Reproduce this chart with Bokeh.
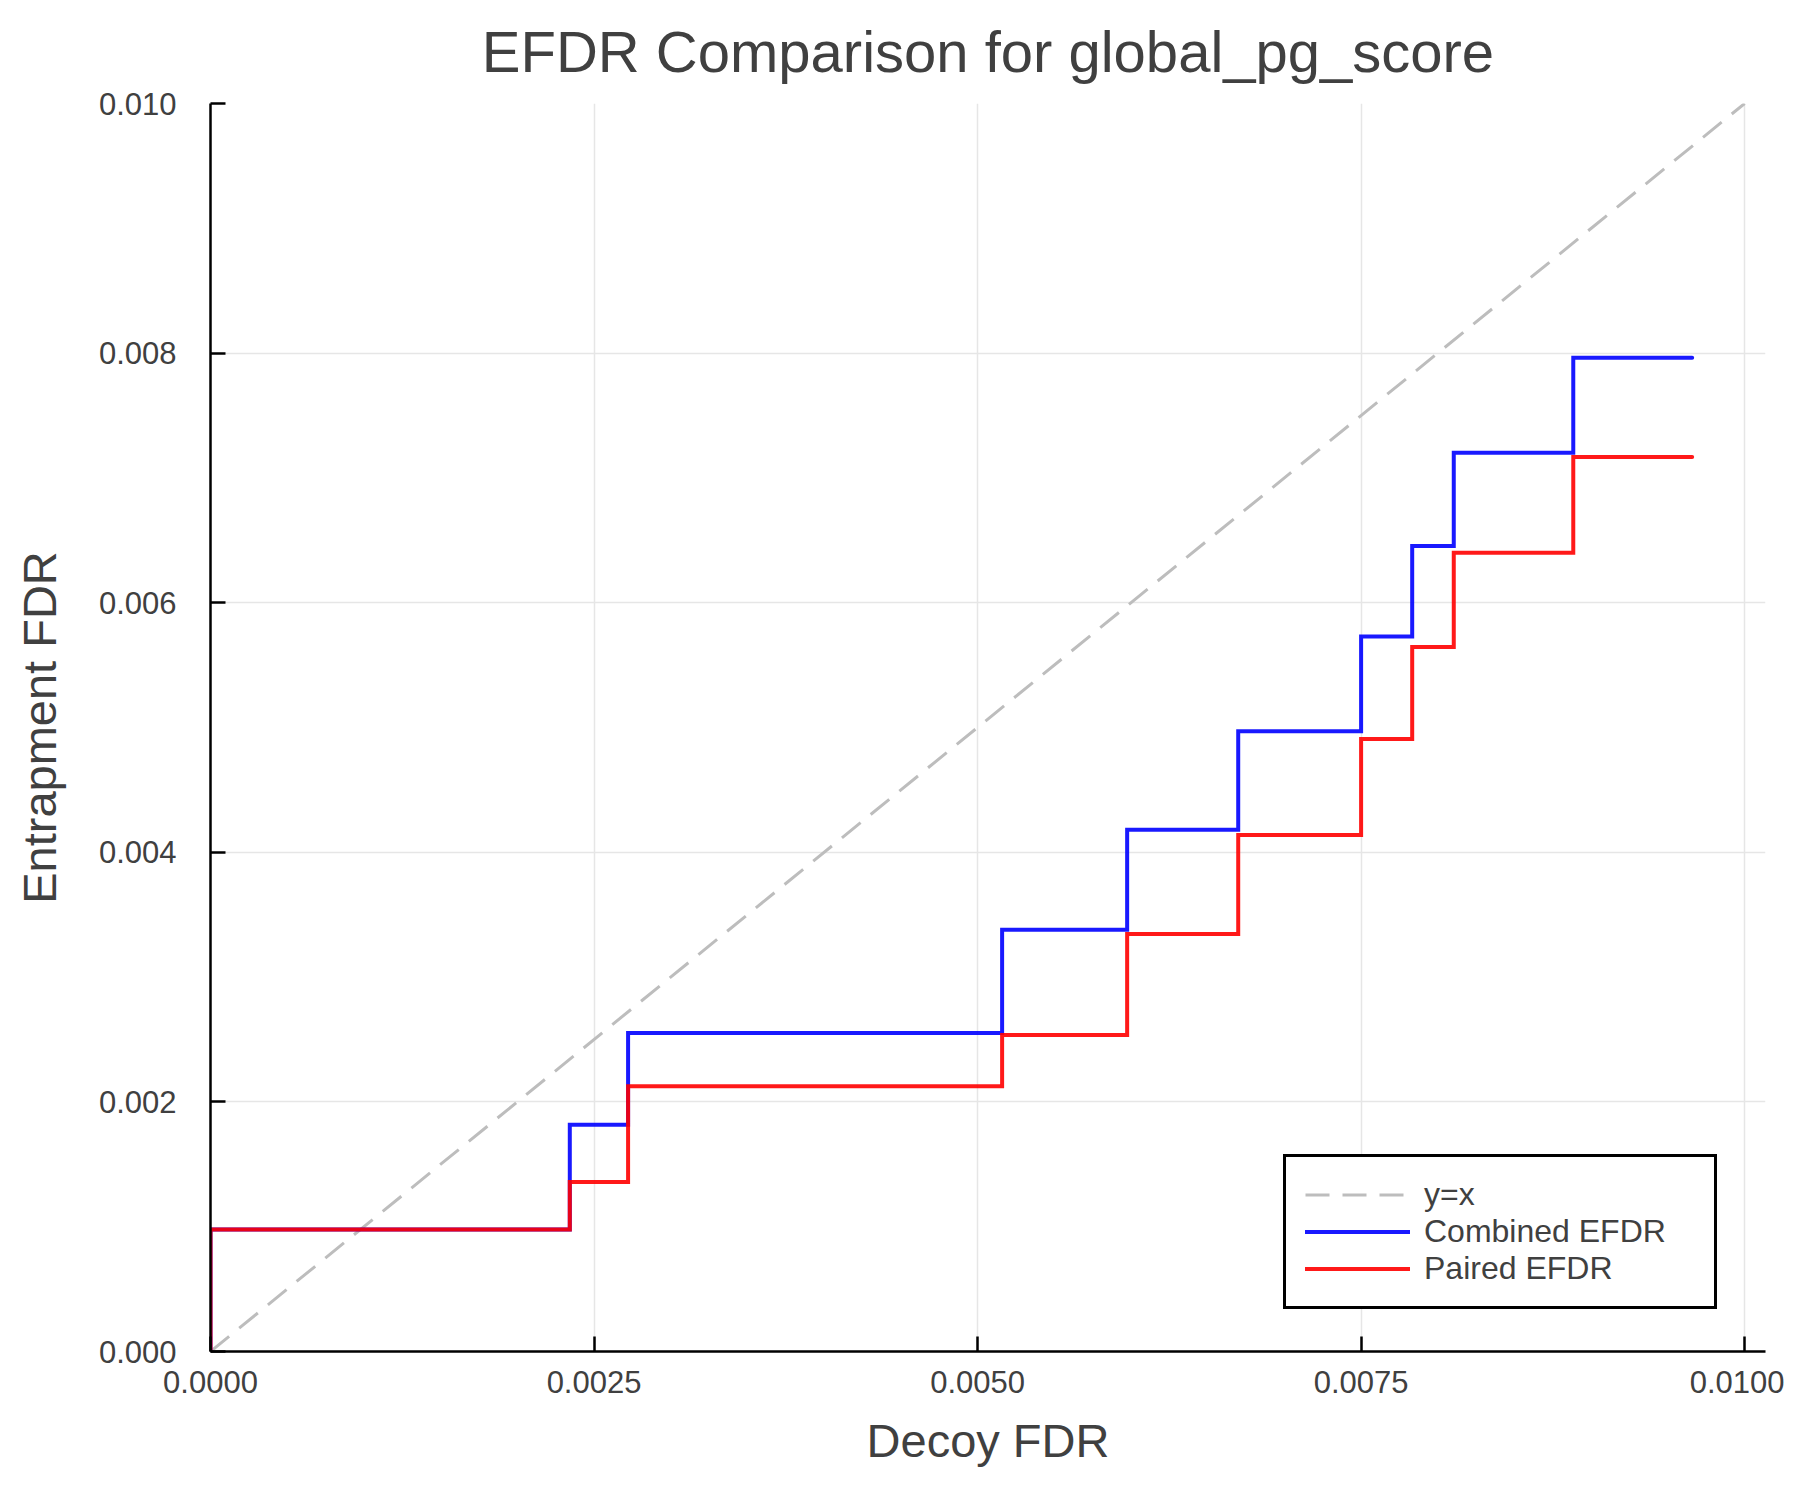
from bokeh.plotting import figure
from bokeh.models import FixedTicker, NumeralTickFormatter, Range1d, Legend, LegendItem
from bokeh.embed import file_html
from bokeh.resources import INLINE

# ---- data ----
decoy_fdr = [0.0, 0.002342, 0.002722, 0.00516, 0.005975, 0.006699, 0.0075, 0.007833, 0.008104, 0.008883]
decoy_fdr_max = 0.009658
combined_efdr = [0.000977, 0.001817, 0.002553, 0.00338, 0.004181, 0.00497, 0.005729, 0.006455, 0.007202, 0.007962]
paired_efdr = [0.000977, 0.001359, 0.002126, 0.002537, 0.003346, 0.004138, 0.004908, 0.005646, 0.006401, 0.007167]
diag = [0.0, 0.01]
x_ticks = [0.0, 0.0025, 0.005, 0.0075, 0.01]
y_ticks = [0.0, 0.002, 0.004, 0.006, 0.008, 0.010]

FONT = "Liberation Sans"
TXT = "#404040"

p = figure(width=1784, height=1484, output_backend="svg", toolbar_location=None,
           x_range=Range1d(0, 0.010136), y_range=Range1d(0, 0.010),
           min_border_left=210, min_border_right=19, min_border_top=102, min_border_bottom=133,
           title="EFDR Comparison for global_pg_score",
           x_axis_label="Decoy FDR", y_axis_label="Entrapment FDR")
p.background_fill_color = "white"
p.border_fill_color = "white"
p.outline_line_color = None

p.title.text_font = FONT
p.title.text_font_size = "58px"
p.title.text_font_style = "normal"
p.title.text_color = TXT
p.title.align = "center"
p.title.vertical_align = "top"
p.title.text_line_height = 1.0
p.title.standoff = 36

p.xaxis.ticker = FixedTicker(ticks=x_ticks)
p.yaxis.ticker = FixedTicker(ticks=y_ticks)
p.xaxis.formatter = NumeralTickFormatter(format="0.0000")
p.yaxis.formatter = NumeralTickFormatter(format="0.000")
for ax in (p.xaxis, p.yaxis):
    ax.axis_line_color = "black"
    ax.axis_line_width = 2.5
    ax.major_tick_line_color = "black"
    ax.major_tick_line_width = 2.5
    ax.major_tick_in = 15
    ax.major_tick_out = 0
    ax.minor_tick_line_color = None
    ax.major_label_text_font = FONT
    ax.major_label_text_font_size = "31px"
    ax.major_label_text_color = TXT
    ax.axis_label_text_font = FONT
    ax.axis_label_text_font_size = "47px"
    ax.axis_label_text_font_style = "normal"
    ax.axis_label_text_color = TXT
p.xaxis.major_label_standoff = 19
p.yaxis.major_label_standoff = 34
p.xaxis.axis_label_standoff = 18
p.yaxis.axis_label_standoff = 30

p.grid.grid_line_color = "#e6e6e6"
p.grid.grid_line_width = 1.5

xs = [decoy_fdr[0]] + decoy_fdr + [decoy_fdr_max]
yb = [0.0] + combined_efdr + [combined_efdr[-1]]
yr = [0.0] + paired_efdr + [paired_efdr[-1]]

r0 = p.line(diag, diag, line_color="#bdbdbd", line_width=3, line_dash="24 13")
r1 = p.step(xs, yb, mode="after", line_color="#0000ff", line_alpha=0.9, line_width=4,
            line_join="miter", line_cap="round")
r2 = p.step(xs, yr, mode="after", line_color="#ff0000", line_alpha=0.9, line_width=4,
            line_join="miter", line_cap="round")

legend = Legend(items=[LegendItem(label="y=x", renderers=[r0]),
                       LegendItem(label="Combined EFDR", renderers=[r1]),
                       LegendItem(label="Paired EFDR", renderers=[r2])],
                location=(1073, 42))
legend.border_line_color = "black"
legend.border_line_alpha = 1.0
legend.border_line_width = 3
legend.background_fill_color = "white"
legend.background_fill_alpha = 1.0
legend.label_text_font = FONT
legend.label_text_font_size = "32px"
legend.label_text_color = TXT
legend.glyph_width = 105
legend.glyph_height = 37
legend.label_height = 37
legend.label_width = 271
legend.label_standoff = 14
legend.spacing = 0
legend.padding = 19
legend.margin = 0
p.add_layout(legend)

open("out.html", "w").write(file_html(p, INLINE))
